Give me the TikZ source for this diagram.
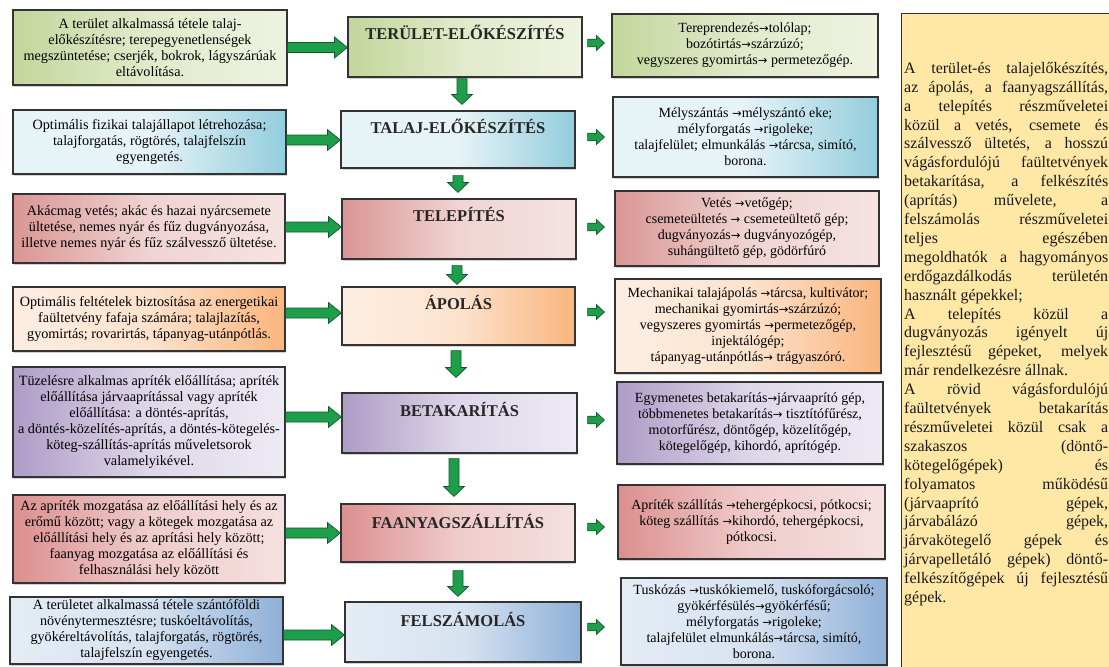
\documentclass[tikz,border=0pt]{standalone}
\usepackage{fontspec}
\setmainfont{Liberation Serif}
\newfontfamily\arrfont{DejaVu Sans}
\newcommand\rarw{{\arrfont\fontsize{11.5}{16}\selectfont →}}
\usetikzlibrary{calc,shadows}
\tolerance=10000 \hbadness=10000 \hfuzz=3pt
\setlength\parindent{0pt}
\definecolor{gD}{HTML}{C3D69B}\definecolor{gL}{HTML}{EEF3E0}
\definecolor{bD}{HTML}{93CDDD}\definecolor{bL}{HTML}{E6F3F7}
\definecolor{pD}{HTML}{D99694}\definecolor{pL}{HTML}{F5E3E2}
\definecolor{oD}{HTML}{FAB57D}\definecolor{oL}{HTML}{FDEEE2}
\definecolor{vD}{HTML}{AE9CC6}\definecolor{vL}{HTML}{EEEAF4}
\definecolor{rD}{HTML}{DB8F8E}\definecolor{rL}{HTML}{F6E0E0}
\definecolor{sD}{HTML}{8FB0D8}\definecolor{sL}{HTML}{E4ECF5}
\definecolor{yel}{HTML}{FFE8A6}
\definecolor{frame}{HTML}{333333}
\definecolor{agreen}{HTML}{1E9E4A}
\definecolor{adark}{HTML}{0F5A28}
\begin{document}
\begin{tikzpicture}[x=1pt,y=-1pt,
  cbox/.style={draw=frame, line width=1.2pt, inner sep=0pt, align=center,
    drop shadow={opacity=0.35, shadow xshift=1.3pt, shadow yshift=-1.5pt}},
  ltxt/.style={cbox, font=\fontsize{14.2}{16}\selectfont},
  rtxt/.style={cbox, font=\fontsize{14}{16}\selectfont},
  ttl/.style={inner sep=0pt, font=\fontsize{16.5}{18}\selectfont\bfseries, text=black!85},
  sz/.style 2 args={minimum width=#1pt, minimum height=#2pt},
  fgreen/.style={left color=gD, right color=gL, middle color=gL!70!gD},
  fblue/.style={left color=bL, right color=bD, middle color=bL},
  fpink/.style={left color=pD, right color=pL, middle color=pL!80!pD},
  forange/.style={left color=oL, right color=oD, middle color=oL!80!oD},
  fviolet/.style={left color=vD, right color=vL, middle color=vL!75!vD},
  fred/.style={left color=rD, right color=rL, middle color=rL!75!rD},
  fsteel/.style={left color=sL, right color=sD, middle color=sL!85!sD},
  arrowfill/.style={fill=agreen, draw=adark, line width=0.7pt, line join=miter},
  bigR/.style={arrowfill, to path={let \p1=(\tikztostart),\p2=(\tikztotarget) in
    -- (\x1,\y1+5pt) -- (\x2-13pt,\y1+5pt) -- (\x2-13pt,\y1+10.5pt) -- (\x2,\y1)
    -- (\x2-13pt,\y1-10.5pt) -- (\x2-13pt,\y1-5pt) -- (\x1,\y1-5pt) -- cycle}},
  smallR/.style={arrowfill, to path={let \p1=(\tikztostart),\p2=(\tikztotarget) in
    -- (\x1,\y1+3.8pt) -- (\x2-8pt,\y1+3.8pt) -- (\x2-8pt,\y1+7.5pt) -- (\x2,\y1)
    -- (\x2-8pt,\y1-7.5pt) -- (\x2-8pt,\y1-3.8pt) -- (\x1,\y1-3.8pt) -- cycle}},
  downA/.style={arrowfill, to path={let \p1=(\tikztostart),\p2=(\tikztotarget) in
    -- (\x1+5pt,\y1) -- (\x1+5pt,\y2+10pt) -- (\x1+10.5pt,\y2+10pt) -- (\x1,\y2)
    -- (\x1-10.5pt,\y2+10pt) -- (\x1-5pt,\y2+10pt) -- (\x1-5pt,\y1) -- cycle}},
  ybox/.style={draw=frame, line width=1pt, fill=yel, inner sep=0pt},
  ytxt/.style={inner sep=0pt, text width=204pt, align=justify,
    font=\fontsize{16}{18.9}\selectfont, text=black!90}
]
\clip (0,0) rectangle (1109,667);
\fill[white] (0,0) rectangle (1109,667);

% left column
\node[ltxt, fgreen, sz={274}{75}] (l1) at (150,47.5)
 {A terület alkalmassá tétele talaj-\\ előkészítésre; terepegyenetlenségek\\ megszüntetése; cserjék, bokrok, lágyszárúak\\ eltávolítása.};
\node[ltxt, fblue, sz={273}{64}] (l2) at (149.5,142)
 {Optimális fizikai talajállapot létrehozása;\\ talajforgatás, rögtörés, talajfelszín\\ egyengetés.};
\node[ltxt, fpink, sz={272}{69}] (l3) at (149,228.5)
 {Akácmag vetés; akác és hazai nyárcsemete\\ ültetése, nemes nyár és fűz dugványozása,\\ illetve nemes nyár és fűz szálvessző ültetése.};
\node[ltxt, forange, sz={272}{64}] (l4) at (149,319)
 {Optimális feltételek biztosítása az energetikai\\ faültetvény fafaja számára; talajlazítás,\\ gyomirtás; rovarirtás, tápanyag-utánpótlás.};
\node[ltxt, fviolet, sz={272}{110}] (l5) at (149,422)
 {Tüzelésre alkalmas apríték előállítása; apríték\\ előállítása járvaaprítással vagy apríték\\ előállítása: a döntés-aprítás,\\ a döntés-közelítés-aprítás, a döntés-kötegelés-\\ köteg-szállítás-aprítás műveletsorok\\ valamelyikével.};
\node[ltxt, fred, sz={272}{88}] (l6) at (149,539)
 {Az apríték mozgatása az előállítási hely és az\\ erőmű között; vagy a kötegek mozgatása az\\ előállítási hely és az aprítási hely között;\\ faanyag mozgatása az előállítási és\\ felhasználási hely között};
\node[ltxt, fsteel, sz={273}{67}] (l7) at (146.5,630.5)
 {A területet alkalmassá tétele szántóföldi\\ növénytermesztésre; tuskóeltávolítás,\\ gyökéreltávolítás, talajforgatás, rögtörés,\\ talajfelszín egyengetés.};

% middle column
\node[cbox, fgreen, sz={234}{60}] (m1) at (465,47) {};
\node[cbox, fblue, sz={234}{57}] (m2) at (458,139.5) {};
\node[cbox, fpink, sz={234}{60}] (m3) at (459,229) {};
\node[cbox, forange, sz={233}{58}] (m4) at (458.5,316) {};
\node[cbox, fviolet, sz={235}{60}] (m5) at (459.5,423) {};
\node[cbox, fred, sz={234}{58}] (m6) at (458,533) {};
\node[cbox, fsteel, sz={236}{60}] (m7) at (463,632) {};
\node[ttl] (t1) at ([yshift=-16pt]m1.north) {TERÜLET-ELŐKÉSZÍTÉS};
\node[ttl] (t2) at ([yshift=-16pt]m2.north) {TALAJ-ELŐKÉSZÍTÉS};
\node[ttl] (t3) at ([yshift=-16pt]m3.north) {TELEPÍTÉS};
\node[ttl] (t4) at ([yshift=-16pt]m4.north) {ÁPOLÁS};
\node[ttl] (t5) at ([yshift=-17pt]m5.north) {BETAKARÍTÁS};
\node[ttl] (t6) at ([yshift=-18pt]m6.north) {FAANYAGSZÁLLÍTÁS};
\node[ttl] (t7) at ([yshift=-18pt]m7.north) {FELSZÁMOLÁS};

% right column
\node[rtxt, fgreen, sz={266}{63}] (r1) at (745,45.5)
 {Tereprendezés\rarw tolólap;\\ bozótirtás\rarw szárzúzó;\\ vegyszeres gyomirtás\rarw{} permetezőgép.};
\node[rtxt, fblue, sz={265}{80}] (r2) at (745.5,137)
 {Mélyszántás \rarw mélyszántó eke;\\ mélyforgatás \rarw rigoleke;\\ talajfelület; elmunkálás \rarw tárcsa, simító,\\ borona.};
\node[rtxt, fpink, sz={264}{75}] (r3) at (747,228.5)
 {Vetés \rarw vetőgép;\\ csemeteültetés \rarw{} csemeteültető gép;\\ dugványozás\rarw{} dugványozógép,\\ suhángültető gép, gödörfúró};
\node[rtxt, forange, sz={266}{94}] (r4) at (748,326)
 {Mechanikai talajápolás \rarw tárcsa, kultivátor;\\ mechanikai gyomirtás\rarw szárzúzó;\\ vegyszeres gyomirtás \rarw permetezőgép,\\ injektálógép;\\ tápanyag-utánpótlás\rarw{} trágyaszóró.};
\node[rtxt, fviolet, sz={266}{82}] (r5) at (750,423)
 {Egymenetes betakarítás\rarw járvaaprító gép,\\ többmenetes betakarítás\rarw{} tisztítófűrész,\\ motorfűrész, döntőgép, közelítőgép,\\ kötegelőgép, kihordó, aprítógép.};
\node[rtxt, fred, sz={267}{74}] (r6) at (751.5,522)
 {Apríték szállítás \rarw tehergépkocsi, pótkocsi;\\ köteg szállítás \rarw kihordó, tehergépkocsi,\\ pótkocsi.};
\node[rtxt, fsteel, sz={266}{87}] (r7) at (754,621.5)
 {Tuskózás \rarw tuskókiemelő, tuskóforgácsoló;\\ gyökérfésülés\rarw gyökérfésű;\\ mélyforgatás \rarw rigoleke;\\ talajfelület elmunkálás\rarw tárcsa, simító,\\ borona.};

% yellow note
\node[ybox, sz={214}{670}, anchor=north west] (yb) at (901,13) {};
\node[ytxt, anchor=north west] (yt) at ($(yb.north west)+(3,49)$)
 {A terület-és talajelőkészítés, \linebreak
 az ápolás, a faanyagszállítás, \linebreak
 a telepítés részműveletei \linebreak
 közül a vetés, csemete és \linebreak
 szálvessző ültetés, a hosszú \linebreak
 vágásfordulójú faültetvények \linebreak
 betakarítása, a felkészítés \linebreak
 (aprítás) művelete, a \linebreak
 felszámolás részműveletei \linebreak
 teljes egészében \linebreak
 megoldhatók a hagyományos \linebreak
 erdőgazdálkodás területén \linebreak
 használt gépekkel;\par
 A telepítés közül a \linebreak
 dugványozás igényelt új \linebreak
 fejlesztésű gépeket, melyek \linebreak
 már rendelkezésre állnak.\par
 A rövid vágásfordulójú \linebreak
 faültetvények betakarítás \linebreak
 részműveletei közül csak a \linebreak
 szakaszos (döntő-\linebreak
 kötegelőgépek) és \linebreak
 folyamatos működésű \linebreak
 (járvaaprító gépek, \linebreak
 járvabálázó gépek, \linebreak
 járvakötegelő gépek és \linebreak
 járvapelletáló gépek) döntő-\linebreak
 felkészítőgépek új fejlesztésű \linebreak
 gépek.};

% left -> middle arrows
\draw[bigR] ([yshift=0pt]l1.east) to (m1.west);
\draw[bigR] ([yshift=2pt]l2.east) to (m2.west);
\draw[bigR] ([yshift=1.5pt]l3.east) to (m3.west);
\draw[bigR] ([yshift=6pt]l4.east) to (m4.west);
\draw[bigR] ([yshift=5pt]l5.east) to (m5.west);
\draw[bigR] ([yshift=6pt]l6.east) to (m6.west);
\draw[bigR] ([yshift=-4.5pt]l7.east) to (m7.west);

% middle -> right arrows
\draw[smallR] ($(m1.east)+(5,-4)$) to ($(r1.west)+(-7,0)$);
\draw[smallR] ($(m2.east)+(12,-2.5)$) to ($(r2.west)+(-8,0)$);
\draw[smallR] ($(m3.east)+(11,-2)$) to ($(r3.west)+(-10,0)$);
\draw[smallR] ($(m4.east)+(12,-4)$) to ($(r4.west)+(-10,0)$);
\draw[smallR] ($(m5.east)+(10,-3)$) to ($(r5.west)+(-12,0)$);
\draw[smallR] ($(m6.east)+(12,-6)$) to ($(r6.west)+(-13,0)$);
\draw[smallR] ($(m7.east)+(6,-5)$) to ($(r7.west)+(-16,0)$);

% middle downward arrows
\draw[downA] ($(m1.south)+(-3,1)$) to ($(m2.north)+(0,-6)$);
\draw[downA] ($(m2.south)+(0,7)$) to ($(m3.north)+(0,-6)$);
\draw[downA] ($(m3.south)+(-2,6)$) to ($(m4.north)+(0,-2)$);
\draw[downA] ($(m4.south)+(-2.5,5)$) to ($(m5.north)+(0,-15)$);
\draw[downA] ($(m5.south)+(-5.5,5)$) to ($(m6.north)+(0,-7)$);
\draw[downA] ($(m6.south)+(0,8)$) to ($(m7.north)+(0,-5)$);
\end{tikzpicture}
\end{document}
